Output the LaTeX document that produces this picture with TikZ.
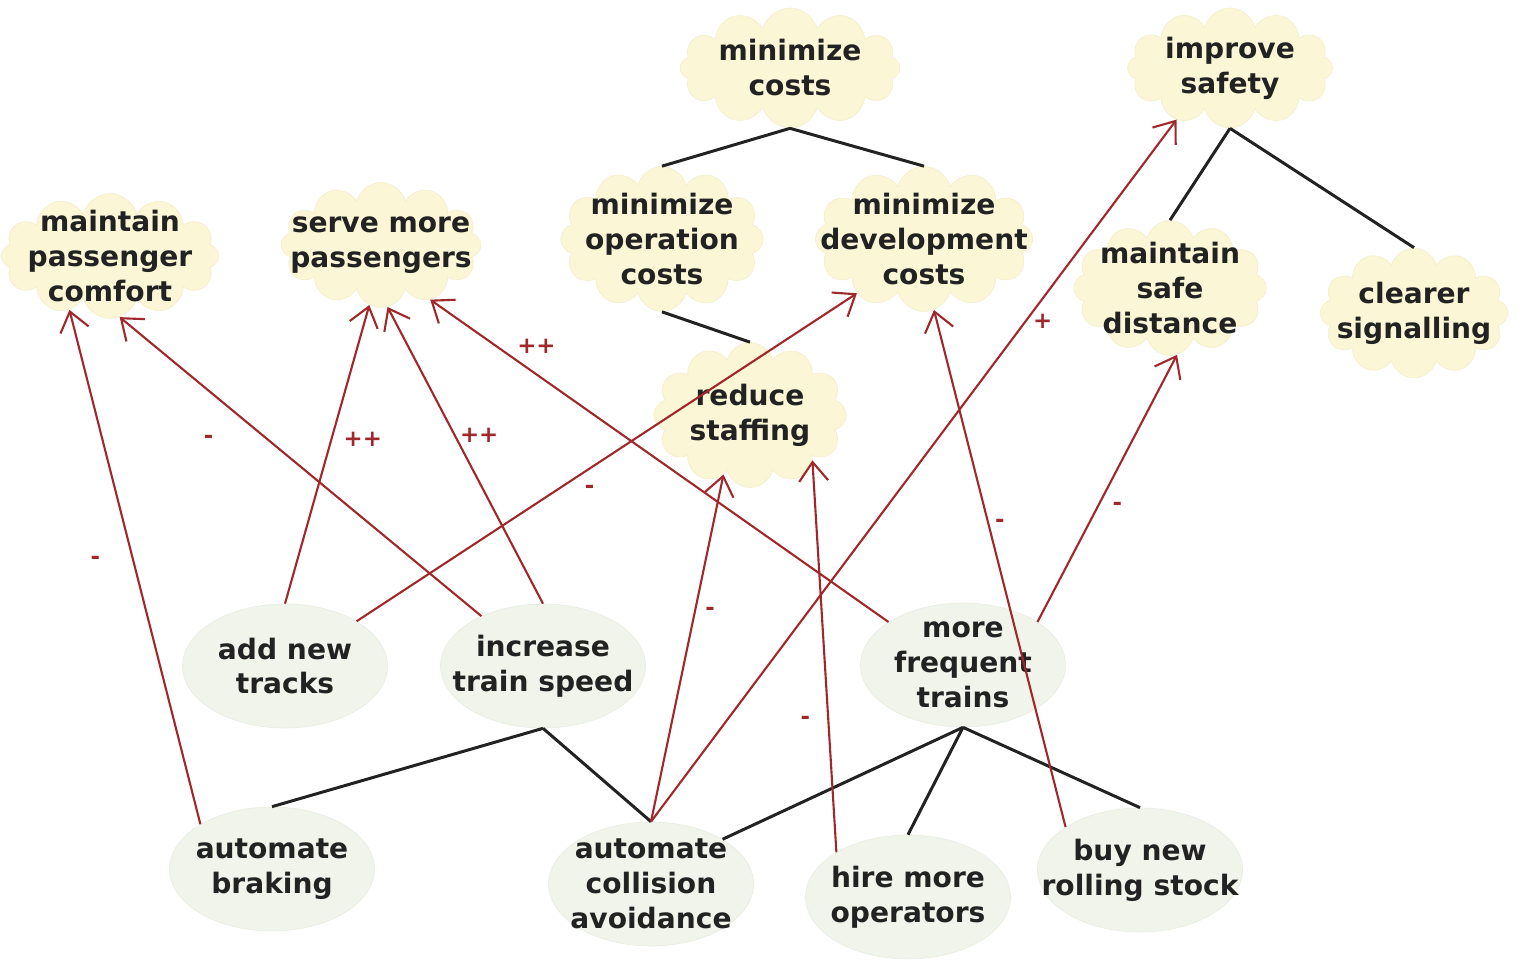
\documentclass[tikz,border=0pt]{standalone}
\usepackage{fontspec}
\setmainfont{DejaVu Sans}
\usetikzlibrary{shapes.symbols,shapes.geometric,arrows.meta}
\definecolor{cloudFill}{HTML}{FAF6D6}
\definecolor{cloudEdge}{HTML}{F5EFCE}
\definecolor{taskFill}{HTML}{F1F4EB}
\definecolor{taskEdge}{HTML}{E9EDE2}
\definecolor{contribRed}{HTML}{A0282B}
\definecolor{linkBlack}{HTML}{222222}

\begin{document}
\begin{tikzpicture}
[x=0.02cm,y=-0.02cm,%
  softGoal/.style={shape=cloud,cloud puffs=12,cloud ignores aspect,fill=cloudFill,draw=cloudEdge,thin,%
    inner xsep=-0.8cm,inner ysep=-0.4cm,align=center,text=linkBlack,font=\bfseries\fontsize{16}{19.9}\selectfont},%
  taskNode/.style={shape=ellipse,fill=taskFill,draw=taskEdge,thin,minimum width=4.1cm,minimum height=2.48cm,%
    inner xsep=-0.8cm,inner ysep=-0.4cm,align=center,text=linkBlack,font=\bfseries\fontsize{16}{19.9}\selectfont},%
  andLink/.style={draw=linkBlack,line width=1.7pt},%
  contribArrow/.style={-{Straight Barb[length=3.8mm,width=5.8mm]},draw=contribRed,line width=1.2pt},%
  contribLabel/.style={auto,text=contribRed,font=\bfseries\fontsize{13}{13}\selectfont}]
\useasboundingbox (0,0) rectangle (1522,966);
%% soft goals
\foreach \nodename/\x/\y/\w/\h/\txt in {
  mincost/790/68/4.4/2.4/{minimize\\costs},
  safety/1230/68/4.1/2.4/{improve\\safety},
  comfort/110/256/4.35/2.5/{maintain\\passenger\\comfort},
  serve/381/245/4.0/2.5/{serve more\\passengers},
  opcost/662/239/4.05/2.9/{minimize\\operation\\costs},
  devcost/924/239/4.35/2.9/{minimize\\development\\costs},
  safedist/1170/288/3.85/2.7/{maintain\\safe\\distance},
  signal/1414/313/3.75/2.6/{clearer\\signalling},
  staff/750/415/3.85/2.9/{reduce\\staffing}}
{
  \node (\nodename) at (\x,\y) [softGoal,minimum width=\w cm,minimum height=\h cm] {\txt};
}
%% tasks
\foreach \nodename/\x/\y/\txt in {
  tracks/285/666/{add new\\tracks},
  speed/543/666/{increase\\train speed},
  frequent/963/665/{more\\frequent\\trains},
  braking/272/869/{automate\\braking},
  collision/651/884/{automate\\collision\\avoidance},
  operators/908/897/{hire more\\operators},
  rolling/1140/870/{buy new\\rolling stock}}
{
  \node (\nodename) at (\x,\y) [taskNode] {\txt};
}
%% decomposition links
\path
\foreach \startnode/\sa/\endnode/\ea in {mincost/-90/opcost/90, mincost/-90/devcost/90,
  safety/-90/safedist/90, safety/-90/signal/90, opcost/-90/staff/90,
  speed/south/braking/north, speed/south/collision/north, frequent/south/collision/32,
  frequent/south/operators/north, frequent/south/rolling/north}
{
  (\startnode.\sa) edge[andLink] (\endnode.\ea)
}
%% contributions
\foreach \startnode/\sa/\endnode/\ea/\pos/\side/\sep/\lab in {
  braking/148/comfort/-127/0.57/auto/14/-, speed/141/comfort/-81/0.68/auto/12/-,
  tracks/90/serve/-101/0.60/swap/4/++, speed/90/serve/-84/0.54/swap/0/++,
  frequent/150/serve/-48/0.82/swap/2/++, tracks/32/devcost/-141/0.44/swap/4/-,
  collision/90/staff/-114/0.64/swap/4/-, collision/90/safety/-136/0.725/swap/0/+,
  operators/148/staff/-36/0.39/auto/9/-, rolling/150/devcost/-82/0.57/swap/2/-,
  frequent/30/safedist/-84/0.48/swap/4/-}
{
  (\startnode.\sa) edge[contribArrow] node[contribLabel,pos=\pos,\side,inner sep=\sep pt] {\lab} (\endnode.\ea)
};
\end{tikzpicture}
\end{document}
